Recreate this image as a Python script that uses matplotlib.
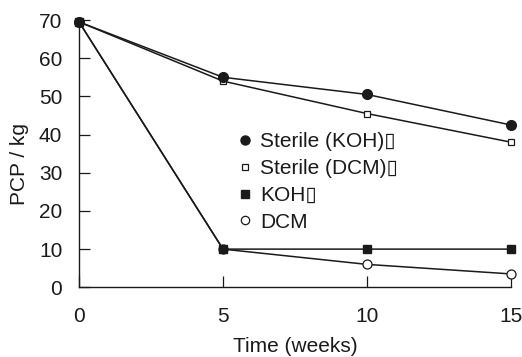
import matplotlib
matplotlib.use("Agg")
import matplotlib.pyplot as plt
from matplotlib.lines import Line2D

plt.rcParams['font.family'] = ['Liberation Sans', 'DejaVu Sans']

weeks = [0, 5, 10, 15]
sterile_koh = [69.5, 55, 50.5, 42.5]
sterile_dcm = [69.5, 54, 45.5, 38]
koh = [69.5, 10, 10, 10]
dcm = [69.5, 10, 6, 3.5]
labels = ["Sterile (KOH)\u25af", "Sterile (DCM)\u25af", "KOH\u25af", "DCM"]
xticks = [0, 5, 10, 15]
yticks = [0, 10, 20, 30, 40, 50, 60, 70]

tc = '#1a1a1a'
fs = 15
fig = plt.figure(figsize=(5.22, 3.57), dpi=100)
ax = fig.add_axes([79/522, 1-287.3/357, (511-79)/522, (287.3-20)/357])

lw = 1.1
ax.plot(weeks, sterile_dcm, color=tc, lw=lw, marker='s', ms=5, mfc='white', mec=tc, mew=0.9, clip_on=False, zorder=3)
ax.plot(weeks, sterile_koh, color=tc, lw=lw, marker='o', ms=7, mfc=tc, mec=tc, clip_on=False, zorder=4)
ax.plot(weeks, dcm, color=tc, lw=lw, marker='o', ms=6.5, mfc='white', mec=tc, mew=0.9, clip_on=False, zorder=3)
ax.plot(weeks, koh, color=tc, lw=lw, marker='s', ms=6, mfc=tc, mec=tc, clip_on=False, zorder=4)

ax.set_xlim(0, 15)
ax.set_ylim(0, 70)
ax.set_xticks(xticks)
ax.set_yticks(yticks)
for s in ['top', 'right']:
    ax.spines[s].set_visible(False)
for s in ['left', 'bottom']:
    ax.spines[s].set_linewidth(1.0)
    ax.spines[s].set_color(tc)
ax.tick_params(direction='in', length=8, width=0.9, colors=tc, labelsize=fs, labelcolor=tc)
ax.tick_params(axis='x', pad=14)
ax.tick_params(axis='y', pad=12)
ax.set_xlabel("Time (weeks)", fontsize=fs, color=tc, labelpad=8)
ax.set_ylabel("PCP / kg", fontsize=fs, color=tc)
ax.yaxis.set_label_coords(-0.115, 0.46)

handles = [
    Line2D([], [], ls='none', marker='o', ms=6.5, mfc=tc, mec=tc),
    Line2D([], [], ls='none', marker='s', ms=5, mfc='white', mec=tc, mew=0.9),
    Line2D([], [], ls='none', marker='s', ms=5.5, mfc=tc, mec=tc),
    Line2D([], [], ls='none', marker='o', ms=6, mfc='white', mec=tc, mew=0.9),
]
leg = ax.legend(handles, labels, frameon=False, fontsize=fs, handlelength=0.6,
                handletextpad=0.4, labelspacing=0.38, borderpad=0, borderaxespad=0,
                loc='upper left', bbox_to_anchor=((239-79)/432, 1-(132-20)/267.3))
for t in leg.get_texts():
    t.set_color(tc)

fig.savefig("out.png", dpi=100)
